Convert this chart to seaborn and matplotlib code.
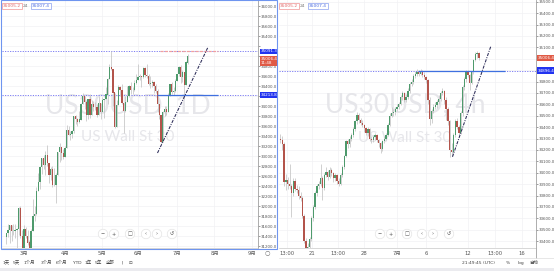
import numpy as np
import pandas as pd
import matplotlib
matplotlib.use("Agg")
import matplotlib.pyplot as plt
from matplotlib.patches import Rectangle
from matplotlib.lines import Line2D
from matplotlib.transforms import blended_transform_factory
import seaborn as sns

# ---------------- data: left panel, US30USD daily ----------------
L_open0 = 31380
L_close = [31458, 31523, 31613, 31494, 31494, 31522, 31537, 31962, 31402, 30932,
           31535, 31391, 31270, 30924, 31496, 31802, 31832, 32297, 32485, 32779,
           32953, 32825, 33015, 32862, 32628, 32731, 32423, 32420, 32619, 33072,
           33171, 33066, 32982, 33153, 33527, 33430, 33446, 33503, 33801, 33746,
           33677, 33730, 34035, 34200, 34078, 33821, 34137, 33815, 34043, 33981,
           33984, 33820, 34060, 33875, 34113, 34133, 34230, 34548, 34778, 34742,
           34270, 33587, 34021, 34382, 34327, 34060, 33896, 34084, 34208, 34394,
           34313, 34323, 34465, 34529, 34575, 34600, 34577, 34756, 34630, 34600,
           34447, 34466, 34480, 34393, 34299, 34033, 33823, 33290, 33877, 33945,
           33874, 34196, 34433, 34283, 34292, 34502, 34633, 34786, 34577, 34681,
           34421, 34870, 35006]
L_high = [31460, 31640, 31620, 31550, 31650, 31650, 31560, 31980, 32010, 31520,
          31620, 31580, 31520, 31320, 31550, 32150, 32000, 32390, 32660, 32800,
          32960, 33030, 33100, 33230, 32870, 32780, 32800, 32760, 32670, 33090,
          33260, 33170, 33150, 33200, 33620, 33600, 33500, 33520, 33810, 33830,
          33760, 33900, 34060, 34260, 34170, 34120, 34150, 34250, 34120, 34100,
          34080, 34050, 34200, 34000, 34190, 34150, 34390, 34560, 34850, 35091,
          34600, 34200, 34120, 34420, 34400, 34450, 33930, 34200, 34400, 34420,
          34480, 34380, 34520, 34650, 34850, 34650, 34590, 34790, 34780, 34850,
          34650, 34600, 34530, 34500, 34450, 34350, 34000, 33800, 33900, 34000,
          34000, 34270, 34450, 34480, 34380, 34550, 34650, 34800, 34830, 34720,
          34550, 34900, 35050]
L_low = [31250, 31390, 31260, 31300, 31430, 31370, 31080, 31420, 31360, 30850,
         30980, 31370, 31230, 30550, 30550, 31520, 31700, 31830, 32300, 32350,
         32640, 32740, 32630, 32800, 32460, 32520, 32390, 32400, 32060, 32620,
         32880, 32920, 32950, 32990, 33200, 33420, 33330, 33370, 33470, 33650,
         33600, 33670, 33770, 34060, 33950, 33710, 33740, 33760, 33830, 33900,
         33920, 33790, 33840, 33750, 33900, 33770, 34150, 34050, 34560, 34720,
         34000, 33560, 33580, 34050, 34200, 34040, 33470, 33880, 34100, 34180,
         34250, 34250, 34300, 34450, 34520, 34520, 34380, 34560, 34590, 34560,
         34430, 34370, 34380, 34270, 34270, 33880, 33740, 33270, 33300, 33800,
         33830, 33950, 34200, 34250, 34230, 34280, 34500, 34600, 34470, 34480,
         34150, 34450, 34850]
L_date_ticks = [10, 33, 54, 74, 96, 117, 138]
L_date_labels = ["3月", "4月", "5月", "6月", "7月", "8月", "9月"]
L_levels = [35091.3, 34213.8]
L_last_box = 34900
L_trend_x = [85.0, 113.4]
L_trend_y = [33060, 35180]

# ---------------- data: right panel, US30USD 4h ----------------
R_open0 = 34300
R_close = [34290, 34250, 33920,
           33940, 33900, 33880, 33820, 33930, 33860,
           33850, 33800, 33780, 33620, 33400, 33300,
           33350, 33420, 33600, 33700, 33820, 33880,
           33900, 33950, 33870, 33980, 34010, 33960,
           34020, 34000, 33950, 33980, 33930, 33900,
           33980, 34050, 34150, 34280, 34250, 34300,
           34330, 34380, 34450, 34510, 34460, 34440,
           34420, 34390, 34350, 34380, 34300, 34290,
           34310, 34330, 34290, 34260, 34210, 34280,
           34300, 34330, 34420, 34500, 34520, 34530,
           34560, 34580, 34600, 34660, 34700, 34640,
           34660, 34720, 34780, 34800, 34850, 34870,
           34880, 34870, 34890, 34860, 34840, 34810,
           34640, 34470, 34540, 34580, 34590, 34620,
           34650, 34700, 34720, 34640, 34560, 34450,
           34200, 34180, 34330, 34450, 34400, 34350,
           34520, 34750, 34820, 34880, 34860, 34790,
           34880, 34990, 35040, 35050, 35006]
R_high = [34340, 34320, 34270,
          33990, 33960, 34080, 33900, 33950, 33950,
          33890, 33880, 33830, 33800, 33640, 33430,
          33380, 33440, 33620, 33720, 33840, 33900,
          33930, 34080, 33970, 34000, 34050, 34020,
          34050, 34040, 34010, 34000, 33990, 33950,
          34000, 34070, 34160, 34290, 34300, 34320,
          34350, 34400, 34460, 34530, 34520, 34480,
          34460, 34430, 34400, 34400, 34390, 34320,
          34330, 34350, 34340, 34300, 34270, 34290,
          34320, 34350, 34440, 34520, 34580, 34560,
          34580, 34600, 34620, 34680, 34720, 34710,
          34690, 34740, 34800, 34820, 34870, 34890,
          34910, 34900, 34910, 34900, 34880, 34850,
          34820, 34660, 34560, 34600, 34620, 34640,
          34680, 34720, 34740, 34730, 34660, 34580,
          34460, 34260, 34350, 34470, 34480, 34420,
          34540, 34770, 34840, 34900, 34900, 34870,
          34890, 35000, 35060, 35070, 35060]
R_low = [34260, 34200, 33880,
         33850, 33860, 33860, 33615, 33800, 33840,
         33820, 33770, 33750, 33600, 33380, 33270,
         33260, 33310, 33400, 33580, 33680, 33800,
         33860, 33880, 33760, 33850, 33960, 33940,
         33950, 33970, 33920, 33930, 33900, 33880,
         33890, 33960, 34030, 34140, 34220, 34230,
         34280, 34310, 34370, 34430, 34440, 34420,
         34400, 34360, 34330, 34320, 34280, 34260,
         34270, 34290, 34270, 34230, 34170, 34190,
         34260, 34290, 34320, 34410, 34490, 34500,
         34510, 34540, 34560, 34590, 34640, 34620,
         34620, 34650, 34700, 34760, 34780, 34830,
         34850, 34850, 34860, 34840, 34820, 34790,
         34600, 34420, 34440, 34520, 34560, 34570,
         34600, 34630, 34680, 34600, 34460, 34420,
         34140, 34150, 34170, 34310, 34380, 34330,
         34340, 34500, 34730, 34800, 34840, 34730,
         34780, 34870, 34980, 35010, 34990]
R_date_ticks = [3.6, 17.3, 31.6, 45.9, 64.0, 79.9, 103.0, 117.9, 132.7]
R_date_labels = ["13:00", "21", "13:00", "28", "7月", "6", "12", "13:00", "16"]
R_level = 34896.4
R_last = 35006.4
R_trend_x = [94.5, 115.6]
R_trend_y = [34140, 35111]

# ---------------- style ----------------
sns.set_theme(style="white")
plt.rcParams["font.family"] = ["DejaVu Sans", "Noto Sans CJK SC"]

W, H = 554, 271
fig = plt.figure(figsize=(W / 100, H / 100), dpi=100)
fig.patch.set_facecolor("white")


def fx(x):
    return x / W


def fy(y):
    return 1 - y / H


GREEN = "#4e9a6c"
RED = "#b3544b"
WICK = "#c4c4c4"
DOT = "#7b7bf2"
SEG_BLUE = "#3f70e0"
WM = "#e6e6ea"

axL = fig.add_axes([fx(2), fy(248), fx(258) - fx(2), 1 - fy(248)])
axR = fig.add_axes([fx(279), fy(248), fx(536) - fx(279), 1 - fy(248)])


def candles(ax, open0, close, high, low, width):
    c = np.asarray(close, float)
    o = np.concatenate([[open0], c[:-1]])
    h = np.maximum(np.asarray(high, float), np.maximum(o, c))
    l = np.minimum(np.asarray(low, float), np.minimum(o, c))
    idx = np.arange(len(c))
    df = pd.DataFrame({"i": idx, "o": o, "c": c, "h": h, "l": l})
    ax.vlines(df["i"], df["l"], df["h"], color=WICK, lw=0.55, zorder=2)
    up = df["c"] >= df["o"]
    body = np.maximum((df["c"] - df["o"]).abs(), 6)
    bottom = np.minimum(df["o"], df["c"])
    ax.bar(df["i"][up], body[up], bottom=bottom[up], width=width,
           color=GREEN, lw=0, zorder=3)
    ax.bar(df["i"][~up], body[~up], bottom=bottom[~up], width=width,
           color=RED, lw=0, zorder=3)


def style_axis(ax, yticks, hidden, ylim, xlim, xt, xl):
    ax.set_xlim(*xlim)
    ax.set_ylim(*ylim)
    ax.set_facecolor("white")
    ax.yaxis.tick_right()
    ax.set_yticks(yticks)
    # labels that sit under the price boxes are covered in the reference
    ax.set_yticklabels(["" if v in hidden else f"{v:.1f}" for v in yticks])
    ax.set_xticks(xt)
    ax.set_xticklabels(xl)
    ax.tick_params(axis="y", labelsize=2.9, colors="#555555", length=1.2,
                   width=0.4, pad=0.8)
    ax.tick_params(axis="x", labelsize=3.8, colors="#555555", length=0, pad=2.2)
    ax.grid(True, color="#f1f1f4", lw=0.5, zorder=0)
    for s in ["top", "left"]:
        ax.spines[s].set_visible(False)
    ax.spines["right"].set_color("#a0a0a0")
    ax.spines["right"].set_linewidth(0.6)
    ax.spines["bottom"].set_color("#c8c8c8")
    ax.spines["bottom"].set_linewidth(0.5)


WM_FONT = ["Lato", "DejaVu Sans"]

# ---------------- left panel ----------------
style_axis(axL, list(range(31200, 36001, 200)), {35000, 35200, 34200},
           (31160, 36120), (-2.36, 141.46), L_date_ticks, L_date_labels)
axL.text(0.492, 0.572, "US30USD, 1D", transform=axL.transAxes, ha="center",
         va="center", fontsize=19, color=WM, family=WM_FONT, zorder=1)
axL.text(0.492, 0.448, "US Wall St 30", transform=axL.transAxes, ha="center",
         va="center", fontsize=11, color=WM, family=WM_FONT, zorder=1)
for lv in L_levels:
    axL.axhline(lv, color=DOT, ls=(0, (1.2, 1.4)), lw=0.7, zorder=2)
axL.hlines(L_levels[0], 86.4, 119.0, color="#f0a0a0", lw=0.9,
           ls=(0, (2.5, 1)), zorder=4)
axL.hlines(L_levels[1], 84.7, 119.0, color=SEG_BLUE, lw=0.9, zorder=4)
candles(axL, L_open0, L_close, L_high, L_low, 0.72)
sns.lineplot(x=L_trend_x, y=L_trend_y, ax=axL, color="#2c2c58", lw=0.75,
             linestyle=(0, (3, 1.2, 1, 1.2)), zorder=5)

trL = blended_transform_factory(axL.transAxes, axL.transData)
box_kw = dict(fontsize=3.0, color="white", va="center", ha="left",
              clip_on=False, zorder=10)
axL.text(1.01, L_levels[0], "35091.3", transform=trL,
         bbox=dict(boxstyle="square,pad=0.2", fc="#2133f0", ec="none"), **box_kw)
axL.text(1.01, L_last_box, "35006.4\n11:48", transform=trL, linespacing=1.05,
         bbox=dict(boxstyle="square,pad=0.2", fc="#e05a45", ec="none"), **box_kw)
axL.text(1.01, L_levels[1], "34213.8", transform=trL,
         bbox=dict(boxstyle="square,pad=0.2", fc="#2133f0", ec="none"), **box_kw)

# ---------------- right panel ----------------
style_axis(axR, list(range(33400, 35501, 100)), {35000, 34900},
           (33340, 35515), (-0.82, 140.38), R_date_ticks, R_date_labels)
axR.text(0.49, 0.576, "US30USD, 4h", transform=axR.transAxes, ha="center",
         va="center", fontsize=19, color=WM, family=WM_FONT, zorder=1)
axR.text(0.49, 0.444, "US Wall St 30", transform=axR.transAxes, ha="center",
         va="center", fontsize=11, color=WM, family=WM_FONT, zorder=1)
axR.axhline(R_level, color=DOT, ls=(0, (1.2, 1.4)), lw=0.7, zorder=2)
axR.hlines(R_level, 75.5, 123.4, color=SEG_BLUE, lw=0.9, zorder=4)
candles(axR, R_open0, R_close, R_high, R_low, 0.72)
sns.lineplot(x=R_trend_x, y=R_trend_y, ax=axR, color="#2c2c58", lw=0.75,
             linestyle=(0, (3, 1.2, 1, 1.2)), zorder=5)

trR = blended_transform_factory(axR.transAxes, axR.transData)
axR.text(1.006, R_last, "35006.4", transform=trR,
         bbox=dict(boxstyle="square,pad=0.25", fc="#e05a45", ec="none"), **box_kw)
axR.text(1.006, R_level, "34896.4", transform=trR,
         bbox=dict(boxstyle="square,pad=0.25", fc="#2133f0", ec="none"), **box_kw)

# ---------------- overlays ----------------
for x0 in (2, 279):
    fig.text(fx(x0 + 10), fy(6), "35005.2", fontsize=3.2, color="#e06a6a",
             ha="center", va="center",
             bbox=dict(boxstyle="square,pad=0.3", fc="white", ec="#f2a5a5", lw=0.6))
    fig.text(fx(x0 + 23), fy(6), "24", fontsize=3.2, color="#777777",
             ha="center", va="center")
    fig.text(fx(x0 + 39), fy(6), "35007.4", fontsize=3.2, color="#4d6ee0",
             ha="center", va="center",
             bbox=dict(boxstyle="square,pad=0.3", fc="white", ec="#9db0f2", lw=0.6))

btn_syms = ["−", "+", "□", "‹", "›", "↺"]
for xs in ([103, 114, 130, 146, 157, 172], [380, 391, 407, 422, 433, 449]):
    for xb, sym in zip(xs, btn_syms):
        fig.text(fx(xb), fy(234), sym, fontsize=3.6, color="#555555",
                 ha="center", va="center",
                 bbox=dict(boxstyle="circle,pad=0.45", fc="white",
                           ec="#e4e4e4", lw=0.5))

# selected-panel frame
fig.add_artist(Rectangle((fx(0.6), fy(249)), fx(276.8) - fx(0.6), 1 - fy(249),
                         fill=False, ec="#6f95ef", lw=0.8,
                         transform=fig.transFigure))
fig.add_artist(Line2D([fx(536), fx(536)], [fy(248), fy(258)], color="#a0a0a0",
                      lw=0.6, transform=fig.transFigure))
fig.add_artist(Line2D([fx(279), fx(554)], [fy(258), fy(258)], color="#dddddd",
                      lw=0.5, transform=fig.transFigure))
fig.text(fx(267), fy(253), "○", fontsize=4.5, color="#666666", ha="center",
         va="center")

# bottom toolbar
tool = [("1天", 6), ("5天", 16), ("1个月", 29), ("3个月", 46), ("6个月", 62),
        ("YTD", 77), ("1年", 88), ("5年", 98), ("全部", 110), ("|", 122),
        ("⊡", 130)]
for t, xt in tool:
    fig.text(fx(xt), fy(263), t, fontsize=3.2, color="#444444", ha="center",
             va="center")
for t, xt in [("21:49:45 (UTC)", 478), ("%", 508), ("log", 521), ("自动", 534)]:
    fig.text(fx(xt), fy(263), t, fontsize=3.2, color="#444444", ha="center",
             va="center")
fig.add_artist(Rectangle((0, 0), 1, fy(268), color="#ebebef", lw=0,
                         transform=fig.transFigure))

fig.savefig("out.png", dpi=100)
